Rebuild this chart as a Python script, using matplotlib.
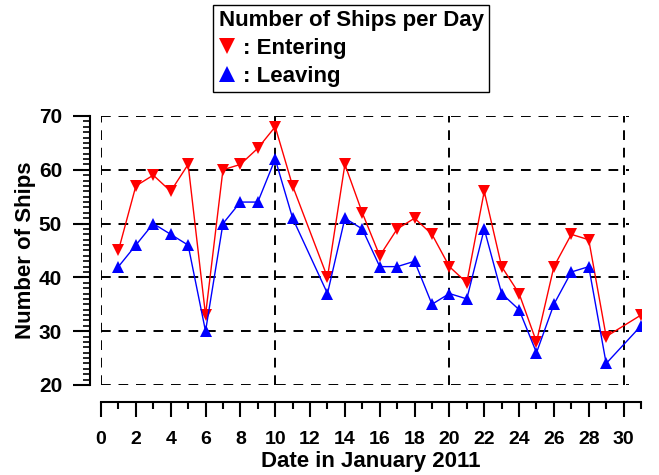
#Ships entering and leaving the port, January 2011
import matplotlib
matplotlib.use('Agg')
import matplotlib.pyplot as plt
from matplotlib.lines import Line2D
from matplotlib.ticker import MultipleLocator

plt.rcParams['font.family'] = ['Liberation Sans', 'DejaVu Sans']
plt.rcParams['font.weight'] = 'bold'

# days with data (12 and 30 are missing)
days = [1, 2, 3, 4, 5, 6, 7, 8, 9, 10, 11, 13, 14, 15, 16, 17, 18, 19, 20,
        21, 22, 23, 24, 25, 26, 27, 28, 29, 31]
entering = [45, 57, 59, 56, 61, 33, 60, 61, 64, 68, 57, 40, 61, 52, 44, 49, 51, 48, 42,
            39, 56, 42, 37, 28, 42, 48, 47, 29, 33]
leaving = [42, 46, 50, 48, 46, 30, 50, 54, 54, 62, 51, 37, 51, 49, 42, 42, 43, 35, 37,
           36, 49, 37, 34, 26, 35, 41, 42, 24, 31]

grid_y = [20, 30, 40, 50, 60, 70]
grid_x = [0, 10, 20, 30]

fig = plt.figure(figsize=(6.59, 4.75), dpi=100)
ax = fig.add_axes([0.1533, 0.1895, 0.8194, 0.5663])

# dashed grid box
ax.hlines(grid_y, 0, 30.3, colors='black', linestyles=(0, (5, 4)), linewidth=1.4, zorder=1)
ax.vlines(grid_x, 20, 70, colors='black', linestyles=(0, (5, 4)), linewidth=1.4, zorder=1)

ax.plot(days, entering, color='red', linewidth=1, marker='v', markersize=8,
        markeredgewidth=0, zorder=3)
ax.plot(days, leaving, color='blue', linewidth=1, marker='^', markersize=8,
        markeredgewidth=0, zorder=3)

ax.set_xlim(0, 31)
ax.set_ylim(20, 70)
for s in ['top', 'right']:
    ax.spines[s].set_visible(False)
ax.spines['left'].set_position(('outward', 8))
ax.spines['bottom'].set_position(('outward', 12))
ax.spines['left'].set_linewidth(1.5)
ax.spines['bottom'].set_linewidth(1.5)
ax.spines['left'].set_bounds(20, 70)
ax.spines['bottom'].set_bounds(0, 31)

ax.xaxis.set_major_locator(MultipleLocator(2))
ax.xaxis.set_minor_locator(MultipleLocator(1))
ax.yaxis.set_major_locator(MultipleLocator(10))
ax.yaxis.set_minor_locator(MultipleLocator(1))
ax.tick_params(axis='x', which='major', length=11, width=1.5, labelsize=14, pad=10)
ax.tick_params(axis='x', which='minor', length=5, width=1.5)
ax.tick_params(axis='y', which='major', length=12, width=1.5, labelsize=15, pad=8)
ax.tick_params(axis='y', which='minor', length=5, width=1.2)

ax.set_xlabel('Date in January 2011', fontsize=16, fontweight='bold', labelpad=2)
ax.set_ylabel('Number of Ships', fontsize=16, fontweight='bold', labelpad=2)

handles = [Line2D([], [], color='red', marker='v', linestyle='none', markersize=11, markeredgewidth=0),
           Line2D([], [], color='blue', marker='^', linestyle='none', markersize=11, markeredgewidth=0)]
leg = fig.legend(handles, [': Entering', ': Leaving'], title='Number of Ships per Day',
                 loc='upper center', bbox_to_anchor=(0.533, 0.99), frameon=True, fancybox=False,
                 edgecolor='black', framealpha=1, handlelength=0.7, handletextpad=0.4,
                 borderpad=0.25, labelspacing=0.3, borderaxespad=0,
                 prop={'size': 16, 'weight': 'bold'},
                 title_fontproperties={'size': 16, 'weight': 'bold'}, alignment='left')
leg.get_frame().set_linewidth(1)

fig.savefig('out.png', dpi=100)
